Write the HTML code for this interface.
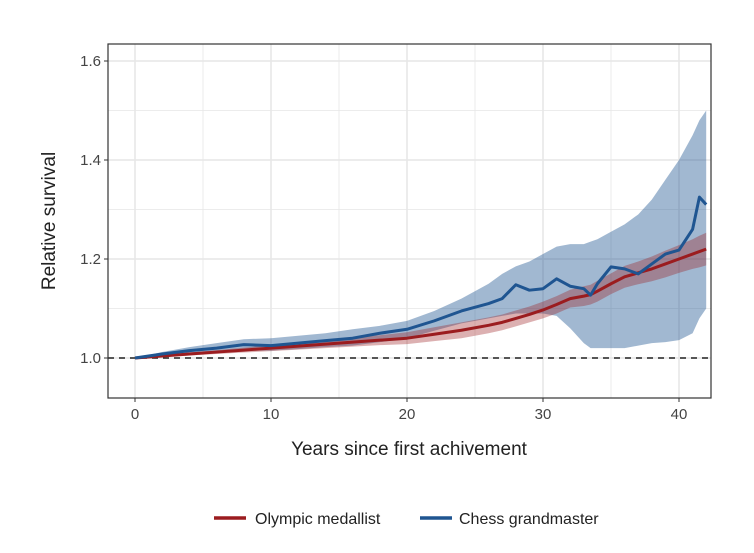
<!DOCTYPE html>
<html><head><meta charset="utf-8"><style>
body{margin:0;background:#fff;font-family:"Liberation Sans",sans-serif}
svg text{font-family:"Liberation Sans",sans-serif}
</style></head><body>
<svg id="chart" width="754" height="548">
<g id="grid"></g><g id="bands"></g><g id="lines"></g><g id="axes"></g>
<g>
<line x1="214" y1="518" x2="246" y2="518" stroke="#9b1c1f" stroke-width="3.5"/>
<text x="255" y="524" font-size="16" fill="#222">Olympic medallist</text>
<line x1="420" y1="518" x2="452" y2="518" stroke="#1f5591" stroke-width="3.5"/>
<text x="459" y="524" font-size="16" fill="#222">Chess grandmaster</text>
</g>
<text x="409" y="455" font-size="19" text-anchor="middle" fill="#222">Years since first achivement</text>
<text transform="translate(55,221) rotate(-90)" font-size="19" text-anchor="middle" fill="#222">Relative survival</text>
</svg>
<script>
const years=[0,2,4,6,8,10,12,14,16,18,20,22,24,26,27,28,29,30,31,32,33,33.5,34,35,36,37,38,39,40,41,41.5,42];
const chess=[1.0,1.008,1.015,1.02,1.027,1.025,1.03,1.035,1.04,1.05,1.058,1.075,1.095,1.11,1.12,1.148,1.137,1.14,1.16,1.145,1.14,1.127,1.15,1.184,1.18,1.17,1.19,1.21,1.218,1.26,1.325,1.31];
const chessHi=[1.0,1.012,1.022,1.03,1.038,1.04,1.045,1.05,1.058,1.065,1.075,1.095,1.12,1.15,1.17,1.185,1.195,1.21,1.225,1.23,1.23,1.235,1.24,1.255,1.27,1.29,1.32,1.36,1.40,1.45,1.48,1.50];
const chessLo=[1.0,1.004,1.008,1.01,1.015,1.015,1.018,1.022,1.025,1.032,1.04,1.055,1.07,1.08,1.085,1.09,1.09,1.09,1.085,1.06,1.03,1.02,1.02,1.02,1.02,1.025,1.03,1.032,1.036,1.05,1.08,1.10];
const olympic=[1.0,1.004,1.008,1.012,1.016,1.02,1.024,1.028,1.032,1.036,1.04,1.048,1.056,1.066,1.072,1.08,1.088,1.097,1.108,1.12,1.125,1.128,1.135,1.15,1.164,1.172,1.18,1.19,1.2,1.21,1.215,1.22];
const olympicHi=[1.0,1.006,1.011,1.016,1.021,1.026,1.031,1.036,1.041,1.046,1.052,1.062,1.072,1.082,1.088,1.096,1.104,1.114,1.125,1.138,1.145,1.148,1.156,1.171,1.186,1.195,1.205,1.217,1.228,1.24,1.247,1.253];
const olympicLo=[1.0,1.002,1.005,1.008,1.011,1.014,1.017,1.02,1.023,1.026,1.028,1.034,1.04,1.05,1.056,1.064,1.072,1.08,1.09,1.102,1.105,1.108,1.114,1.129,1.142,1.149,1.155,1.163,1.172,1.18,1.183,1.187];
const xTicks=[0,10,20,30,40];
const yTicks=[1.0,1.2,1.4,1.6];
const L=108,R=711,T=44,B=398;
const xs=v=>135+v*13.6;
const ys=v=>358-(v-1)*495;
const NS="http://www.w3.org/2000/svg";
function mk(parent,tag,attrs){const e=document.createElementNS(NS,tag);for(const k in attrs)e.setAttribute(k,attrs[k]);document.getElementById(parent).appendChild(e);return e;}
for(let v=-5;v<=42;v+=5){if(v<-2)continue;const x=xs(v);if(x<L||x>R)continue;
const g=mk('grid','line',{x1:x,x2:x,y1:T,y2:B,stroke:'#e6e6e6','stroke-width':v%10===0?1.5:0.8});

}
for(let v=0.9;v<=1.65;v+=0.1){const y=ys(v);if(y<T||y>B)continue;
const g=mk('grid','line',{x1:L,x2:R,y1:y,y2:y,stroke:'#e6e6e6','stroke-width':Math.round(v*10)%2===0?1.5:0.8});

}
function band(hi,lo,fill,name){let d='M'+years.map((y,i)=>xs(y)+','+ys(hi[i])).join('L');
d+='L'+years.map((y,i)=>[xs(y),ys(lo[i])]).reverse().map(p=>p.join(',')).join('L')+'Z';
const p=mk('bands','path',{d:d,fill:fill});

}
band(chessHi,chessLo,'rgba(31,85,145,0.42)','chess-ci-band');
band(olympicHi,olympicLo,'rgba(155,28,31,0.35)','olympic-ci-band');
const dash=mk('lines','line',{x1:L,x2:R,y1:ys(1),y2:ys(1),stroke:'#222','stroke-width':1.6,'stroke-dasharray':'6,5'});


function line(vals,col,name){const p=mk('lines','path',{d:'M'+years.map((y,i)=>xs(y)+','+ys(vals[i])).join('L'),fill:'none',stroke:col,'stroke-width':3,'stroke-linejoin':'round'});

}
line(olympic,'#9b1c1f','olympic-line');
line(chess,'#1f5591','chess-line');
const fr=mk('axes','rect',{x:L,y:T,width:R-L,height:B-T,fill:'none',stroke:'#333','stroke-width':1.2});


xTicks.forEach(v=>{const x=xs(v);
const t=mk('axes','line',{x1:x,x2:x,y1:B,y2:B+4,stroke:'#333'});


const l=mk('axes','text',{x:x,y:B+21,'font-size':15,'text-anchor':'middle',fill:'#444'});l.textContent=v;

});
yTicks.forEach(v=>{const y=ys(v);
const t=mk('axes','line',{x1:L-4,x2:L,y1:y,y2:y,stroke:'#333'});


const l=mk('axes','text',{x:L-7,y:y+5,'font-size':15,'text-anchor':'end',fill:'#444'});l.textContent=v.toFixed(1);

});
</script>
</body></html>
